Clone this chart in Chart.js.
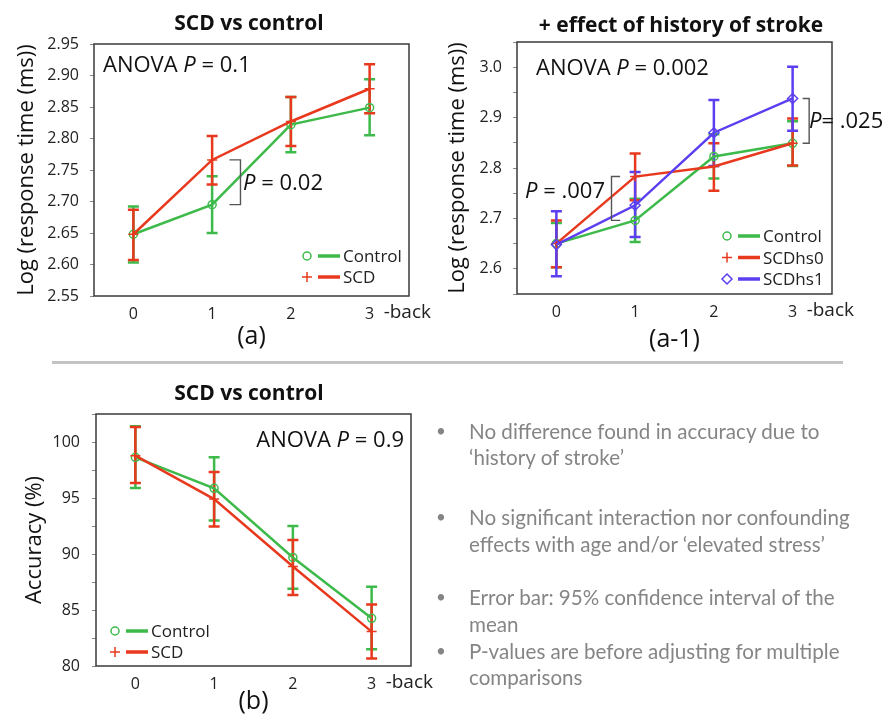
<!DOCTYPE html>
<html><head><meta charset="utf-8">
<script src="https://cdn.jsdelivr.net/npm/chart.js@4/dist/chart.umd.min.js"></script>
<style>
html,body{margin:0;padding:0;background:#fff;width:884px;height:717px;overflow:hidden;position:relative}
canvas{position:absolute}
.sep{position:absolute;left:52px;top:361px;width:791px;height:3px;background:#c3c3c3}
.ln,.bu{position:absolute;font-family:Lato,sans-serif;font-size:20.6px;color:#858585;line-height:24px;white-space:nowrap}
.ln{left:469px}
.bu{left:436px;font-size:17px}
</style></head>
<body>
<canvas id="ca" width="440" height="352" style="left:0;top:0;width:440px;height:352px"></canvas>
<canvas id="ca1" width="444" height="355" style="left:440px;top:0;width:444px;height:355px"></canvas>
<div class="sep"></div>
<canvas id="cb" width="440" height="351" style="left:0;top:366px;width:440px;height:351px"></canvas>

<div class="bu" style="top:419px">•</div>
<div class="ln" style="top:419px">No difference found in accuracy due to</div>
<div class="ln" style="top:445px">‘history of stroke’</div>
<div class="bu" style="top:505px">•</div>
<div class="ln" style="top:505px">No significant interaction nor confounding</div>
<div class="ln" style="top:532px">effects with age and/or ‘elevated stress’</div>
<div class="bu" style="top:585px">•</div>
<div class="ln" style="top:585px">Error bar: 95% confidence interval of the</div>
<div class="ln" style="top:612px">mean</div>
<div class="bu" style="top:639px">•</div>
<div class="ln" style="top:639px">P-values are before adjusting for multiple</div>
<div class="ln" style="top:665px">comparisons</div>

<script>
// ---------- data ----------
const nBack = [0, 1, 2, 3];
const xTickValues = [0, 1, 2, 3];
const xTickLabels = ['0', '1', '2', '3'];

// (a) response time, SCD vs control
const rtControlMean = [2.648, 2.695, 2.822, 2.849];
const rtControlLow  = [2.603, 2.650, 2.778, 2.805];
const rtControlHigh = [2.692, 2.740, 2.866, 2.894];
const rtScdMean = [2.648, 2.766, 2.827, 2.879];
const rtScdLow  = [2.607, 2.727, 2.788, 2.840];
const rtScdHigh = [2.687, 2.804, 2.866, 2.918];
const rtTicks = [2.55, 2.60, 2.65, 2.70, 2.75, 2.80, 2.85, 2.90, 2.95];
const rtTickLabels = ['2.55', '2.60', '2.65', '2.70', '2.75', '2.80', '2.85', '2.90', '2.95'];

// (a-1) response time, history of stroke
const hsControlMean = [2.650, 2.696, 2.823, 2.849];
const hsControlLow  = [2.603, 2.653, 2.779, 2.804];
const hsControlHigh = [2.691, 2.739, 2.867, 2.893];
const hs0Mean = [2.650, 2.783, 2.803, 2.849];
const hs0Low  = [2.603, 2.736, 2.755, 2.805];
const hs0High = [2.696, 2.829, 2.849, 2.898];
const hs1Mean = [2.648, 2.726, 2.870, 2.938];
const hs1Low  = [2.585, 2.663, 2.804, 2.874];
const hs1High = [2.714, 2.792, 2.935, 3.001];
const hsTicks = [2.55, 2.60, 2.65, 2.70, 2.75, 2.80, 2.85, 2.90, 2.95, 3.00, 3.05];
const hsTickLabels = ['', '2.6', '', '2.7', '', '2.8', '', '2.9', '', '3.0', ''];

// (b) accuracy
const accControlMean = [98.63, 95.86, 89.69, 84.26];
const accControlLow  = [95.89, 93.00, 86.89, 81.49];
const accControlHigh = [101.40, 98.63, 92.49, 87.07];
const accScdMean = [98.78, 94.90, 88.88, 83.07];
const accScdLow  = [96.33, 92.46, 86.35, 80.66];
const accScdHigh = [101.34, 97.32, 91.24, 85.49];
const accTicks = [80, 82.5, 85, 87.5, 90, 92.5, 95, 97.5, 100, 102.5];
const accTickLabels = ['80', '', '85', '', '90', '', '95', '', '100', ''];

// ---------- style ----------
const FONT = "'Open Sans', sans-serif";
const GREEN = '#3dba4a', RED = '#e8381d', PURPLE = '#5b3ff0';

function ds(label, mean, low, high, color, style, radius, order) {
  return {
    label, data: nBack.map((x, i) => ({x, y: mean[i]})), errLow: low, errHigh: high,
    borderColor: color, backgroundColor: color, borderWidth: 2.5, tension: 0, fill: false,
    pointStyle: style, pointRadius: radius, pointHoverRadius: radius, pointBorderWidth: 1.5,
    pointBackgroundColor: 'rgba(0,0,0,0)', pointBorderColor: color, order
  };
}

function drawRich(ctx, parts, x, y, align, size) {
  const fonts = parts.map(p => (p.it ? 'italic ' : '') + size + 'px ' + FONT);
  let w = 0;
  parts.forEach((p, i) => { ctx.font = fonts[i]; w += ctx.measureText(p.t).width; });
  let cx = align === 'right' ? x - w : x;
  ctx.textAlign = 'left'; ctx.textBaseline = 'alphabetic'; ctx.fillStyle = '#111';
  parts.forEach((p, i) => { ctx.font = fonts[i]; ctx.fillText(p.t, cx, y); cx += ctx.measureText(p.t).width; });
}

function drawMarker(ctx, style, cx, cy, r) {
  ctx.beginPath();
  if (style === 'circle') { ctx.arc(cx, cy, r, 0, Math.PI * 2); }
  else if (style === 'cross') { ctx.moveTo(cx - r, cy); ctx.lineTo(cx + r, cy); ctx.moveTo(cx, cy - r); ctx.lineTo(cx, cy + r); }
  else if (style === 'rectRot') { ctx.moveTo(cx, cy - r); ctx.lineTo(cx + r, cy); ctx.lineTo(cx, cy + r); ctx.lineTo(cx - r, cy); ctx.closePath(); }
  ctx.stroke();
}

const decorPlugin = {
  id: 'decor',
  beforeDatasetsDraw(chart, args, o) {
    const {ctx, scales: {x, y}} = chart;
    const metas = chart.getSortedVisibleDatasetMetas().slice().reverse();
    ctx.save();
    metas.forEach(m => {
      const d = chart.data.datasets[m.index];
      ctx.strokeStyle = d.borderColor; ctx.lineWidth = 2.5;
      d.data.forEach((p, i) => {
        const px = x.getPixelForValue(p.x);
        const y0 = y.getPixelForValue(d.errLow[i]), y1 = y.getPixelForValue(d.errHigh[i]);
        ctx.beginPath();
        ctx.moveTo(px, y0); ctx.lineTo(px, y1);
        ctx.moveTo(px - 5.5, y0); ctx.lineTo(px + 5.5, y0);
        ctx.moveTo(px - 5.5, y1); ctx.lineTo(px + 5.5, y1);
        ctx.stroke();
      });
    });
    ctx.restore();
  },
  afterDraw(chart, args, o) {
    const {ctx, chartArea: a, scales: {x, y}} = chart;
    ctx.save();
    ctx.strokeStyle = '#3a3a3a'; ctx.lineWidth = 1.5;
    ctx.strokeRect(a.left, a.top, a.right - a.left, a.bottom - a.top);
    // chart title
    ctx.font = 'bold 21px ' + FONT; ctx.fillStyle = '#111'; ctx.textAlign = 'center'; ctx.textBaseline = 'alphabetic';
    ctx.fillText(o.title, o.titleX, o.titleY);
    // "-back"
    ctx.font = '19px ' + FONT; ctx.fillStyle = '#222'; ctx.textAlign = 'left'; ctx.textBaseline = 'middle';
    ctx.fillText('-back', x.getPixelForValue(xTickValues[xTickValues.length - 1]) + 14, a.bottom + 17);
    // rich texts
    o.texts.forEach(t => drawRich(ctx, t.parts, t.x, t.y, t.align, 22));
    // brackets
    ctx.strokeStyle = '#555'; ctx.lineWidth = 1.4;
    o.brackets.forEach(b => {
      const xv = x.getPixelForValue(b.xv), xe = x.getPixelForValue(b.xe);
      const y0 = y.getPixelForValue(b.y0), y1 = y.getPixelForValue(b.y1);
      ctx.beginPath(); ctx.moveTo(xe, y0); ctx.lineTo(xv, y0); ctx.lineTo(xv, y1); ctx.lineTo(xe, y1); ctx.stroke();
    });
    // legend
    const L = o.legend;
    chart.data.datasets.forEach((d, i) => {
      const cy = L.y + i * L.dy;
      ctx.strokeStyle = d.borderColor; ctx.lineWidth = 1.5;
      drawMarker(ctx, d.pointStyle, L.x, cy, d.pointStyle === 'circle' ? 4 : 5);
      ctx.lineWidth = 3.5; ctx.beginPath(); ctx.moveTo(L.x + 11, cy); ctx.lineTo(L.x + 33, cy); ctx.stroke();
      ctx.font = '17px ' + FONT; ctx.fillStyle = '#222'; ctx.textAlign = 'left'; ctx.textBaseline = 'alphabetic';
      ctx.fillText(d.label, L.x + 36, cy + 6);
    });
    ctx.restore();
  }
};

function scales(o) {
  return {
    x: {
      type: 'linear', min: -0.5, max: 3.5,
      afterBuildTicks: s => { s.ticks = xTickValues.map(v => ({value: v})); },
      afterFit: s => { s.height = o.xh; },
      grid: {display: false, drawTicks: false}, border: {display: false},
      ticks: {font: {family: FONT, size: 16}, color: '#222', padding: 9, maxRotation: 0, autoSkip: false,
        callback: v => xTickLabels[xTickValues.indexOf(v)]},
      title: {display: true, text: o.xTitle, font: {family: FONT, size: 25}, color: '#111', padding: {top: 0, bottom: 0}}
    },
    y: {
      type: 'linear', min: o.ymin, max: o.ymax,
      afterBuildTicks: s => { s.ticks = o.yTicks.map(v => ({value: v})); },
      afterFit: s => { s.width = o.yw; },
      grid: {drawOnChartArea: false, drawTicks: true, tickLength: 4, color: '#888', lineWidth: 1},
      border: {display: false},
      ticks: {font: {family: FONT, size: 16}, color: '#222', padding: o.ypad, autoSkip: false,
        callback: (v, i) => o.yLabels[i]},
      title: {display: true, text: o.yTitle, font: {family: FONT, size: 22}, color: '#111', padding: {top: o.ytp, bottom: 0}}
    }
  };
}

function baseOptions(o, decor) {
  return {
    responsive: false, animation: false, events: [],
    layout: {padding: {top: o.pt, right: o.pr, left: 0, bottom: 0}},
    plugins: {legend: {display: false}, tooltip: {enabled: false}, title: {display: false}, decor},
    scales: scales(o)
  };
}

// (a)
new Chart(document.getElementById('ca'), {
  type: 'line',
  data: {datasets: [
    ds('Control', rtControlMean, rtControlLow, rtControlHigh, GREEN, 'circle', 4, 1),
    ds('SCD', rtScdMean, rtScdLow, rtScdHigh, RED, 'cross', 5, 0)
  ]},
  options: baseOptions(
    {pt: 44, pr: 31, xh: 56, yw: 94, ypad: 11, ytp: 13.8, ymin: 2.55, ymax: 2.95,
     yTicks: rtTicks, yLabels: rtTickLabels, xTitle: '(a)', yTitle: 'Log (response time (ms))'},
    {title: 'SCD vs control', titleX: 249, titleY: 30,
     texts: [
       {parts: [{t: 'ANOVA '}, {t: 'P', it: true}, {t: ' = 0.1'}], x: 103, y: 72},
       {parts: [{t: 'P', it: true}, {t: ' = 0.02'}], x: 243, y: 190}
     ],
     brackets: [{xv: 1.36, xe: 1.22, y0: rtScdMean[1], y1: rtControlMean[1]}],
     legend: {x: 307, y: 256, dy: 21}}
  ),
  plugins: [decorPlugin]
});

// (a-1)
new Chart(document.getElementById('ca1'), {
  type: 'line',
  data: {datasets: [
    ds('Control', hsControlMean, hsControlLow, hsControlHigh, GREEN, 'circle', 4, 2),
    ds('SCDhs0', hs0Mean, hs0Low, hs0High, RED, 'cross', 5, 1),
    ds('SCDhs1', hs1Mean, hs1Low, hs1High, PURPLE, 'rectRot', 5, 0)
  ]},
  options: baseOptions(
    {pt: 42, pr: 52, xh: 61, yw: 77, ypad: 11, ytp: 4.3, ymin: 2.55, ymax: 3.05,
     yTicks: hsTicks, yLabels: hsTickLabels, xTitle: '(a-1)', yTitle: 'Log (response time (ms))'},
    {title: '+ effect of history of stroke', titleX: 241, titleY: 32,
     texts: [
       {parts: [{t: 'ANOVA '}, {t: 'P', it: true}, {t: ' = 0.002'}], x: 96, y: 75},
       {parts: [{t: 'P', it: true}, {t: ' = .007'}], x: 85, y: 198},
       {parts: [{t: 'P', it: true}, {t: '= .025'}], x: 369, y: 128}
     ],
     brackets: [
       {xv: 0.70, xe: 0.81, y0: hs0Mean[1], y1: hsControlMean[1]},
       {xv: 3.21, xe: 3.127, y0: hs1Mean[3], y1: hsControlMean[3]}
     ],
     legend: {x: 287, y: 236, dy: 21.5}}
  ),
  plugins: [decorPlugin]
});

// (b)
new Chart(document.getElementById('cb'), {
  type: 'line',
  data: {datasets: [
    ds('Control', accControlMean, accControlLow, accControlHigh, GREEN, 'circle', 4, 1),
    ds('SCD', accScdMean, accScdLow, accScdHigh, RED, 'cross', 5, 0)
  ]},
  options: baseOptions(
    {pt: 48, pr: 29, xh: 51, yw: 96, ypad: 12, ytp: 21.8, ymin: 80, ymax: 102.5,
     yTicks: accTicks, yLabels: accTickLabels, xTitle: '(b)', yTitle: 'Accuracy (%)'},
    {title: 'SCD vs control', titleX: 249, titleY: 34,
     texts: [
       {parts: [{t: 'ANOVA '}, {t: 'P', it: true}, {t: ' = 0.9'}], x: 404, y: 81, align: 'right'}
     ],
     brackets: [],
     legend: {x: 115, y: 265, dy: 21}}
  ),
  plugins: [decorPlugin]
});
</script>
</body></html>
